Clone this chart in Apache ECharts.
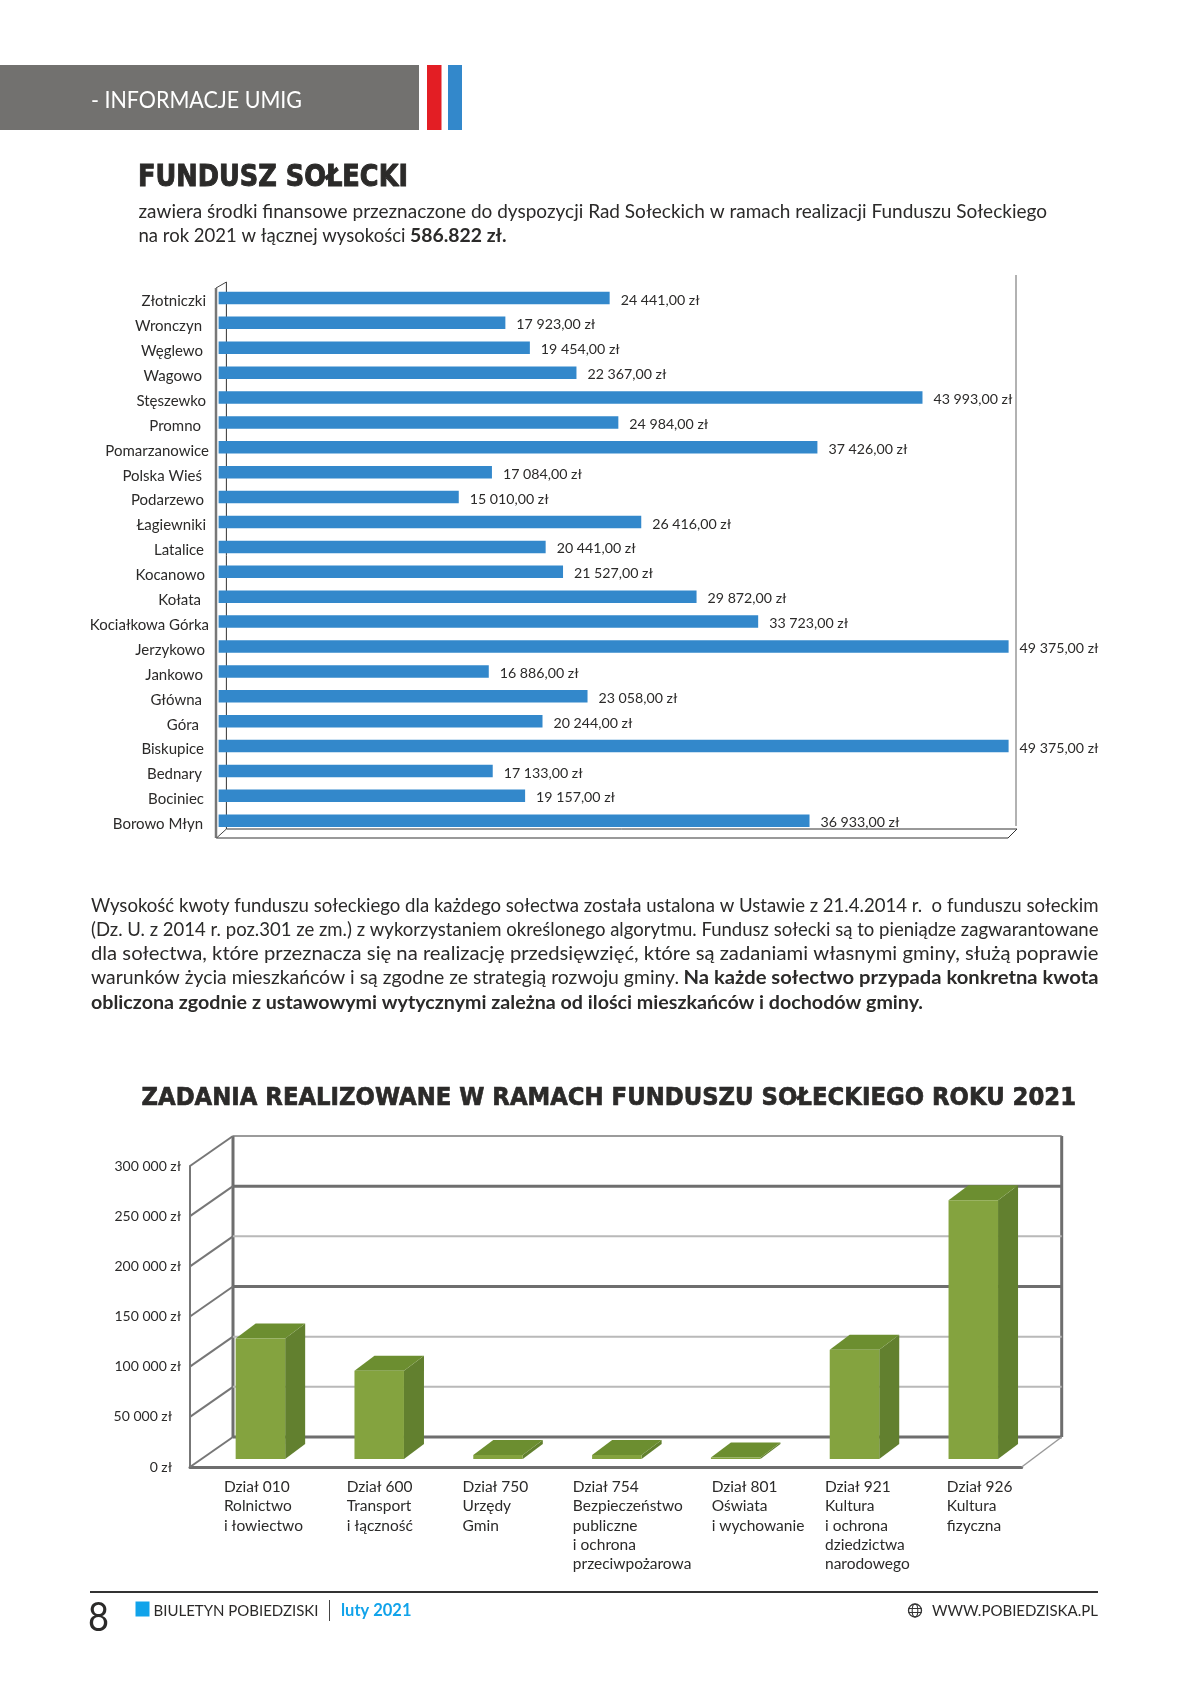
<!DOCTYPE html>
<html lang="pl">
    <head>
        <meta charset="UTF-8" />
        <title>Fundusz sołecki</title>
        <script src="https://cdn.jsdelivr.net/npm/echarts@6.0.0/dist/echarts.min.js"></script>
        <style>
            body,
            html {
                margin: 0;
                padding: 0;
                background-color: #fff;
            }
            #main {
                width: 1190px;
                height: 1683px;
            }
        </style>
    </head>
    <body>
        <div id="main"></div>
        <script>
            // fundusz per solectwo
            const villages = [
                "Złotniczki", "Wronczyn", "Węglewo", "Wagowo", "Stęszewko", "Promno", "Pomarzanowice", "Polska Wieś",
                "Podarzewo", "Łagiewniki", "Latalice", "Kocanowo", "Kołata", "Kociałkowa Górka", "Jerzykowo", "Jankowo",
                "Główna", "Góra", "Biskupice", "Bednary", "Bociniec", "Borowo Młyn",
            ]
            const funds = [
                24441, 17923, 19454, 22367, 43993, 24984, 37426, 17084, 15010, 26416, 20441, 21527, 29872, 33723, 49375,
                16886, 23058, 20244, 49375, 17133, 19157, 36933,
            ]

            // zadania per dzial
            const taskLabels = [
                "Dział 010\nRolnictwo\ni łowiectwo",
                "Dział 600\nTransport\ni łączność",
                "Dział 750\nUrzędy\nGmin",
                "Dział 754\nBezpieczeństwo\npubliczne\ni ochrona\nprzeciwpożarowa",
                "Dział 801\nOświata\ni wychowanie",
                "Dział 921\nKultura\ni ochrona\ndziedzictwa\nnarodowego",
                "Dział 926\nKultura\nfizyczna",
            ]
            const taskValues = [120000, 88000, 4000, 4000, 1500, 109000, 258000]
            const taskTicks = [0, 50000, 100000, 150000, 200000, 250000, 300000]

            const textColor = "#2b2a29"
            const bodyFont = "Lato"
            const headFont = "DejaVu Sans"

            const measureCtx = document.createElement("canvas").getContext("2d")

            // text stretched/squeezed to an exact width, like the justified lines on the page
            function fitText(text, x, y, width, size, opts = {}) {
                const weight = opts.weight || "normal"
                const family = opts.family || bodyFont
                const fill = opts.fill || textColor
                measureCtx.font = `${weight} ${size}px "${family}"`
                return {
                    type: "text",
                    x: x,
                    y: y,
                    scaleX: width / measureCtx.measureText(text).width,
                    silent: true,
                    style: {
                        text: text,
                        fontSize: size,
                        fontWeight: weight,
                        fontFamily: family,
                        fill: fill,
                        stroke: opts.heavy ? fill : null,
                        lineWidth: opts.heavy || 0,
                        textVerticalAlign: "middle",
                    },
                }
            }

            function line(x1, y1, x2, y2, stroke, lineWidth) {
                return { type: "line", z: 0, silent: true, shape: { x1, y1, x2, y2 }, style: { stroke, lineWidth } }
            }

            function rect(x, y, width, height, fill) {
                return { type: "rect", z: 0, silent: true, shape: { x, y, width, height }, style: { fill } }
            }

            function money(v) {
                return String(v).replace(/\B(?=(\d{3})+$)/g, " ")
            }

            const pageText = [
                fitText("- INFORMACJE UMIG", 91, 100, 211, 24, { fill: "#fff" }),
                fitText("FUNDUSZ SOŁECKI", 138, 178.5, 270, 30, { weight: "bold", family: headFont, heavy: 1 }),
                fitText("zawiera środki finansowe przeznaczone do dyspozycji Rad Sołeckich w ramach realizacji Funduszu Sołeckiego", 138.5, 212, 908.5, 18.5),
                fitText("na rok 2021 w łącznej wysokości", 138.5, 236, 267, 18.5),
                fitText("586.822 zł.", 410, 236, 96.5, 18.5, { weight: "bold" }),
                fitText("Wysokość kwoty funduszu sołeckiego dla każdego sołectwa została ustalona w Ustawie z 21.4.2014 r.  o funduszu sołeckim", 91, 906, 1007.5, 18.5),
                fitText("(Dz. U. z 2014 r. poz.301 ze zm.) z wykorzystaniem określonego algorytmu. Fundusz sołecki są to pieniądze zagwarantowane", 91, 930, 1007.5, 18.5),
                fitText("dla sołectwa, które przeznacza się na realizację przedsięwzięć, które są zadaniami własnymi gminy, służą poprawie", 91, 954, 1007.5, 18.5),
                fitText("warunków życia mieszkańców i są zgodne ze strategią rozwoju gminy.", 91, 978.5, 588, 18.5),
                fitText("Na każde sołectwo przypada konkretna kwota", 683.5, 978.5, 415, 18.5, { weight: "bold" }),
                fitText("obliczona zgodnie z ustawowymi wytycznymi zależna od ilości mieszkańców i dochodów gminy.", 91, 1003, 832, 18.5, { weight: "bold" }),
                fitText("ZADANIA REALIZOWANE W RAMACH FUNDUSZU SOŁECKIEGO ROKU 2021", 141.5, 1098.5, 934.5, 25, { weight: "bold", family: headFont, heavy: 0.7 }),
                fitText("8", 88, 1618.5, 21, 40),
                fitText("BIULETYN POBIEDZISKI", 153.5, 1611, 165, 16),
                fitText("luty 2021", 341, 1611, 70.5, 16.5, { weight: "bold", fill: "#11a3ea" }),
                fitText("WWW.POBIEDZISKA.PL", 932, 1611, 166, 16),
            ]

            const pageShapes = [
                // naglowek
                rect(0, 65, 419, 65, "#72716f"),
                rect(427, 65, 14.5, 65, "#e31e24"),
                rect(448, 65, 14, 65, "#3388cb"),
                // stopka
                line(90, 1592, 1098, 1592, "#333", 2),
                rect(135.5, 1601.5, 14, 15, "#11a3ea"),
                line(329.5, 1600, 329.5, 1621, "#444", 1),
                { type: "circle", silent: true, shape: { cx: 915, cy: 1610.5, r: 6.5 }, style: { fill: "none", stroke: "#333", lineWidth: 1.3 } },
                { type: "ellipse", silent: true, shape: { cx: 915, cy: 1610.5, rx: 2.8, ry: 6.5 }, style: { fill: "none", stroke: "#333", lineWidth: 1.1 } },
                line(908.5, 1608.5, 921.5, 1608.5, "#333", 1),
                line(908.5, 1612.5, 921.5, 1612.5, "#333", 1),
                // ramka wykresu slupkow poziomych
                line(226.4, 282, 226.4, 829, "#333", 1),
                line(216, 288, 226.4, 282, "#444", 1),
                line(216, 288, 216, 838, "#777", 2.5),
                line(226.4, 829, 1017, 829, "#333", 1),
                line(216.5, 838, 1008, 838, "#777", 1.5),
                line(216.5, 838, 226.4, 829, "#444", 1),
                line(1008, 838, 1017, 829, "#333", 1),
                line(1016, 275, 1016, 826, "#999", 1.5),
            ]

            // how far each village name sits left of the axis label anchor
            const nameInset = [3, 7, 6, 7, 3, 8, 0, 7, 5, 3, 5, 4, 8, 0, 4, 6, 7, 10, 5, 7, 5, 6]

            // 3d box geometry of the lower chart: wall depth and where the bars stand inside it
            const wallDepth = [43, -30]
            const wallRightDepth = 40
            const barShift = [11, -8]
            const barWidth = 49.5
            const boxDepth = [20, -15]
            const wallLine = {
                0: ["#6e6e6e", 3],
                50000: ["#b9b9b9", 2],
                100000: ["#b9b9b9", 2],
                150000: ["#6e6e6e", 3],
                200000: ["#b9b9b9", 2],
                250000: ["#6e6e6e", 3],
                300000: ["#7a7a7a", 1.5],
            }
            const taskLabelNudge = [-25.5, -21.5, -24.5, -33, -13, -18.5, -15.5]

            function renderWall(params, api) {
                const v = api.value(1)
                const cs = params.coordSys
                const y = api.coord([0, v])[1]
                const [dx, dy] = wallDepth
                const backX = cs.x + dx
                const rightX = cs.x + cs.width + wallRightDepth
                const children = [
                    { type: "line", shape: { x1: cs.x, y1: y, x2: backX, y2: y + dy }, style: { stroke: "#777", lineWidth: 2 } },
                    { type: "line", shape: { x1: backX, y1: y + dy, x2: rightX, y2: y + dy }, style: { stroke: wallLine[v][0], lineWidth: wallLine[v][1] } },
                ]
                if (v === 0) {
                    children.push(
                        { type: "line", shape: { x1: backX, y1: cs.y + dy, x2: backX, y2: y + dy }, style: { stroke: "#6e6e6e", lineWidth: 3 } },
                        { type: "line", shape: { x1: rightX, y1: cs.y + dy, x2: rightX, y2: y + dy }, style: { stroke: "#6e6e6e", lineWidth: 3 } },
                        { type: "line", shape: { x1: rightX, y1: y + dy, x2: cs.x + cs.width, y2: y }, style: { stroke: "#999", lineWidth: 1.5 } }
                    )
                }
                return { type: "group", children }
            }

            function renderBox(params, api) {
                const i = api.value(0)
                const base = api.coord([i, 0])
                const top = api.coord([i, api.value(1)])
                const l = base[0] + barShift[0] - barWidth / 2
                const r = l + barWidth
                const b = base[1] + barShift[1]
                const t = top[1] + barShift[1]
                const [dx, dy] = boxDepth
                return {
                    type: "group",
                    children: [
                        { type: "polygon", shape: { points: [[r, b], [r + dx, b + dy], [r + dx, t + dy], [r, t]] }, style: { fill: "#62802f" } },
                        { type: "polygon", shape: { points: [[l, t], [r, t], [r + dx, t + dy], [l + dx, t + dy]] }, style: { fill: "#6c8e30" } },
                        { type: "rect", shape: { x: l, y: t, width: barWidth, height: b - t }, style: { fill: "#84a33f" } },
                    ],
                }
            }

            function renderTaskLabel(params, api) {
                const i = api.value(0)
                const p = api.coord([i, 0])
                return {
                    type: "text",
                    x: p[0] + taskLabelNudge[i],
                    y: p[1] + 10.5,
                    style: {
                        text: taskLabels[i],
                        fontSize: 15.5,
                        fontFamily: bodyFont,
                        fill: textColor,
                        lineHeight: 19.3,
                        textAlign: "left",
                        textVerticalAlign: "top",
                    },
                }
            }

            const myChart = echarts.init(document.getElementById("main"))
            const option = {
                animation: false,
                backgroundColor: "#fff",
                graphic: { elements: [...pageShapes, ...pageText] },
                grid: [
                    { left: 218.6, top: 285.5, width: 800, height: 547.7 },
                    { left: 190, top: 1166, width: 831.7, height: 301 },
                    // village names sit a little lower than their bars, so they get their own axis
                    { left: 218.6, top: 289, width: 800, height: 547.7 },
                ],
                xAxis: [
                    { gridIndex: 0, type: "value", min: 0, max: 50000, show: false },
                    {
                        gridIndex: 1,
                        type: "category",
                        data: taskLabels.map((t) => t.split("\n")[0]),
                        axisLine: { lineStyle: { color: "#6e6e6e", width: 3 } },
                        axisTick: { show: false },
                        axisLabel: { show: false },
                    },
                    { gridIndex: 2, type: "value", min: 0, max: 50000, show: false },
                ],
                yAxis: [
                    {
                        gridIndex: 0,
                        type: "category",
                        inverse: true,
                        data: villages,
                        show: false,
                    },
                    {
                        gridIndex: 1,
                        type: "value",
                        min: 0,
                        max: 300000,
                        interval: 50000,
                        splitLine: { show: false },
                        axisLine: { show: true, lineStyle: { color: "#777", width: 2 } },
                        axisTick: { show: false },
                        axisLabel: {
                            margin: 9,
                            fontSize: 14,
                            fontFamily: bodyFont,
                            color: textColor,
                            formatter: (v) => (v <= 50000 ? `{s|${money(v)} zł}` : `${money(v)} zł`),
                            rich: { s: { fontSize: 14, fontFamily: bodyFont, color: textColor, padding: [0, 9, 0, 0] } },
                        },
                    },
                    {
                        gridIndex: 2,
                        type: "category",
                        inverse: true,
                        data: villages.map((name, i) => ({ value: name, textStyle: { padding: [0, nameInset[i], 0, 0] } })),
                        axisLine: { show: false },
                        axisTick: { show: false },
                        axisLabel: { margin: 9.6, fontSize: 15, fontFamily: bodyFont, color: textColor, interval: 0 },
                    },
                ],
                series: [
                    {
                        name: "Fundusz sołecki",
                        type: "bar",
                        xAxisIndex: 0,
                        yAxisIndex: 0,
                        z: 2,
                        barWidth: 12.5,
                        data: funds,
                        itemStyle: { color: "#3388cb" },
                        label: {
                            show: true,
                            position: "right",
                            distance: 11,
                            offset: [0, 2],
                            fontSize: 14.2,
                            fontFamily: bodyFont,
                            color: textColor,
                            formatter: (p) => `${money(p.value)},00 zł`,
                        },
                    },
                    {
                        name: "Ściana",
                        type: "custom",
                        xAxisIndex: 1,
                        yAxisIndex: 1,
                        z: 1,
                        clip: false,
                        silent: true,
                        renderItem: renderWall,
                        data: taskTicks.map((v) => [0, v]),
                    },
                    {
                        name: "Zadania",
                        type: "custom",
                        xAxisIndex: 1,
                        yAxisIndex: 1,
                        z: 3,
                        clip: false,
                        renderItem: renderBox,
                        data: taskValues.map((v, i) => [i, v]),
                    },
                    {
                        name: "Etykiety",
                        type: "custom",
                        xAxisIndex: 1,
                        yAxisIndex: 1,
                        z: 3,
                        clip: false,
                        silent: true,
                        renderItem: renderTaskLabel,
                        data: taskValues.map((v, i) => [i, 0]),
                    },
                ],
            }
            myChart.setOption(option)
        </script>
    </body>
</html>
